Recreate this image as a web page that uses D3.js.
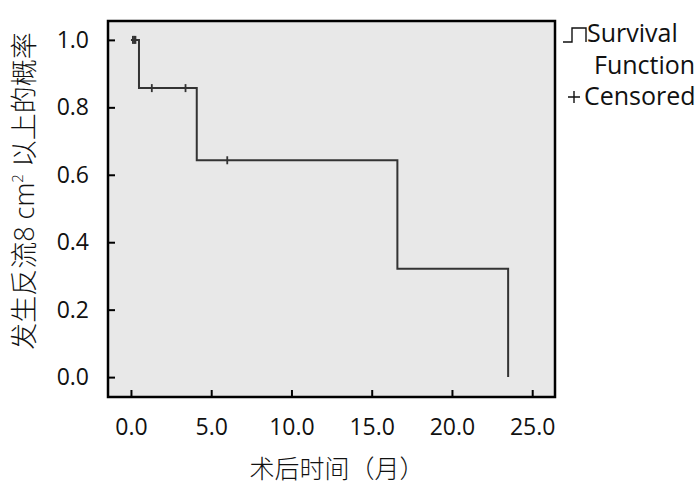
<!DOCTYPE html>
<html><head><meta charset="utf-8">
<script src="https://cdn.jsdelivr.net/npm/d3@7"></script>
<style>
html,body{margin:0;padding:0;background:#fff;}
text{font-family:"Open Sans","Noto Sans CJK SC",sans-serif;fill:#111;}
</style></head>
<body>
<svg id="chart" width="700" height="499"></svg>
<script>
// ---- data ----
const stepTimes = [0, 0.5, 4.1, 16.6, 23.5];
const stepSurvival = [1.0, 0.857, 0.643, 0.321, 0.0];
const censoredTimes = [0.12, 0.2, 0.28, 1.3, 3.4, 6.0];
const xTicks = [0, 5, 10, 15, 20, 25];
const yTicks = [0, 0.2, 0.4, 0.6, 0.8, 1.0];
const xTitle = "术后时间（月）";
const yTitleA = "发生反流8 cm";
const yTitleSup = "2";
const yTitleB = " 以上的概率";
const legendLabels = ["Survival", "Function", "Censored"];

const svg = d3.select("#chart");
const L = 108, R = 555, T = 21, B = 397;
const x = d3.scaleLinear().domain([-1.43, 26.42]).range([L, R]);
const y = d3.scaleLinear().domain([-0.059, 1.056]).range([B, T]);

// background
svg.append("rect").attr("x", L).attr("y", T).attr("width", R - L).attr("height", B - T)
  .attr("fill", "#e8e8e8");

// step line
const pts = stepTimes.map((t, i) => [t, stepSurvival[i]]);
const line = d3.line().x(d => x(d[0])).y(d => y(d[1])).curve(d3.curveStepAfter);
svg.append("path").datum(pts).attr("d", line).attr("fill", "none")
  .attr("stroke", "#333").attr("stroke-width", 2);

// censored marks
function survAt(t) {
  let s = stepSurvival[0];
  for (let i = 0; i < stepTimes.length; i++) if (t >= stepTimes[i]) s = stepSurvival[i];
  return s;
}
svg.append("g").selectAll("line").data(censoredTimes).join("line")
  .attr("x1", d => x(d)).attr("x2", d => x(d))
  .attr("y1", d => y(survAt(d)) - 4).attr("y2", d => y(survAt(d)) + 4)
  .attr("stroke", "#333").attr("stroke-width", 1.8);

// axes
const fmt = d3.format(".1f");
const gx = svg.append("g").attr("transform", `translate(0,${B})`)
  .call(d3.axisBottom(x).tickValues(xTicks).tickFormat(fmt).tickSize(-7).tickPadding(22));
const gy = svg.append("g").attr("transform", `translate(${L},0)`)
  .call(d3.axisLeft(y).tickValues(yTicks).tickFormat(fmt).tickSize(-7).tickPadding(19));
[gx, gy].forEach(g => {
  g.select(".domain").remove();
  g.selectAll(".tick line").attr("stroke", "#000").attr("stroke-width", 2);
  g.selectAll(".tick text").attr("font-size", 23).attr("font-family", "Open Sans").attr("fill", "#111");
});

// border
svg.append("rect").attr("x", L).attr("y", T).attr("width", R - L).attr("height", B - T)
  .attr("fill", "none").attr("stroke", "#000").attr("stroke-width", 2.5);

// axis titles
svg.append("text").attr("x", 337).attr("y", 478).attr("text-anchor", "middle")
  .attr("font-size", 25).attr("font-family", "Noto Sans CJK SC").attr("font-weight", 300)
  .text(xTitle);
const yt = svg.append("text").attr("transform", "translate(34,191) rotate(-90)")
  .attr("text-anchor", "middle").attr("font-size", 27).attr("font-weight", 300);
yt.append("tspan").text(yTitleA);
yt.append("tspan").attr("font-size", 15).attr("dy", -11).text(yTitleSup);
yt.append("tspan").attr("dy", 11).text(yTitleB);

// legend
svg.append("path").attr("d", "M563,42 H572 V28 H586 V42").attr("fill", "none")
  .attr("stroke", "#111").attr("stroke-width", 1.4);
svg.append("text").attr("x", 587).attr("y", 42).attr("font-size", 25).text(legendLabels[0]);
svg.append("text").attr("x", 594).attr("y", 74).attr("font-size", 25).text(legendLabels[1]);
svg.append("path").attr("d", "M568,97 H580 M574,91 V103").attr("stroke", "#111").attr("stroke-width", 1.4);
svg.append("text").attr("x", 584).attr("y", 105).attr("font-size", 25).text(legendLabels[2]);
</script>
</body></html>
